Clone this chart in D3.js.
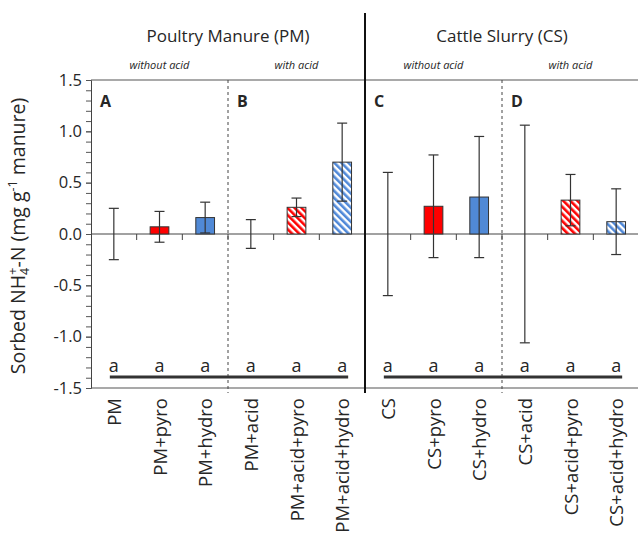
<!DOCTYPE html>
<html>
<head>
<meta charset="utf-8">
<script src="https://cdn.jsdelivr.net/npm/d3@7"></script>
<style>
  body { margin: 0; background: #fff; }
  svg text { font-family: "Open Sans", "Noto Sans", sans-serif; fill: #262626; }
</style>
</head>
<body>
<div id="chart"></div>
<script>
categories = ['PM','PM+pyro','PM+hydro','PM+acid','PM+acid+pyro','PM+acid+hydro',
              'CS','CS+pyro','CS+hydro','CS+acid','CS+acid+pyro','CS+acid+hydro'];
values = [0, 0.07, 0.16, 0, 0.26, 0.70, 0, 0.27, 0.36, 0, 0.33, 0.12];
errors = [0.25, 0.15, 0.15, 0.14, 0.09, 0.38, 0.60, 0.50, 0.59, 1.06, 0.25, 0.32];
fills = ['none','red','blue','none','redHatch','blueHatch','none','red','blue','none','redHatch','blueHatch'];
letters = ['a','a','a','a','a','a','a','a','a','a','a','a'];
panels = ['A','B','C','D'];
subHeads = ['without acid','with acid','without acid','with acid'];
groups = ['Poultry Manure (PM)','Cattle Slurry (CS)'];
yTicks = [-1.5,-1.0,-0.5,0.0,0.5,1.0,1.5];

let width = 638;
let height = 538;

const margin = { top: 80, left: 91, bottom: 150, right: 0 };

let svg = d3.select('#chart').append('svg')
    .attr('width', width)
    .attr('height', height);

let defs = svg.append('defs');
function hatch(id, color) {
    let p = defs.append('pattern').attr('id', id)
        .attr('patternUnits', 'userSpaceOnUse')
        .attr('width', 5).attr('height', 5)
        .attr('patternTransform', 'rotate(-45)');
    p.append('rect').attr('width', 5).attr('height', 5).attr('fill', '#fff');
    p.append('rect').attr('width', 2.6).attr('height', 5).attr('fill', color);
}
hatch('redHatch', '#ff0000');
hatch('blueHatch', '#4f88d8');

const colors = { red: '#ff0000', blue: '#5089d6', redHatch: 'url(#redHatch)', blueHatch: 'url(#blueHatch)' };

//-----X-------
let x = d3.scaleBand().domain(categories)
    .range([margin.left, width + 1]);

//-----Y-------
let y = d3.scaleLinear().domain([-1.5, 1.5])
    .range([height - margin.bottom, margin.top]);

// minor ticks
svg.append('g').attr('class', 'axis minor')
    .attr('transform', 'translate(' + margin.left + ',0)')
    .call(d3.axisLeft(y).tickValues(d3.range(-15, 16).map(d => d / 10)).tickSize(5).tickFormat(''))
    .call(g => g.select('.domain').remove())
    .call(g => g.selectAll('line').attr('stroke', '#555'));

let yAxis = d3.axisLeft(y)
    .tickValues(yTicks)
    .tickSize(5)
    .tickPadding(4)
    .tickFormat(d3.format('.1f'));

svg.append('g').attr('class', 'axis y')
    .attr('transform', 'translate(' + margin.left + ',0)')
    .call(yAxis)
    .call(g => g.select('.domain').attr('stroke', '#444'))
    .call(g => g.selectAll('line').attr('stroke', '#555'))
    .call(g => g.selectAll('text').attr('font-size', 16.5).style('fill', '#262626')
        .text(d => d3.format('.1f')(d).replace('−', '-')));

// top and bottom frame lines
[1.5, -1.5].forEach(v => {
    svg.append('line')
        .attr('x1', margin.left).attr('x2', width)
        .attr('y1', y(v)).attr('y2', y(v))
        .attr('stroke', '#555').attr('stroke-width', 1.2);
});

// zero line with category ticks
svg.append('line')
    .attr('x1', margin.left).attr('x2', width)
    .attr('y1', y(0)).attr('y2', y(0))
    .attr('stroke', '#444').attr('stroke-width', 1.2);

svg.selectAll('.xtick')
    .data(categories.slice(1))
    .enter().append('line')
        .attr('x1', d => x(d)).attr('x2', d => x(d))
        .attr('y1', y(0)).attr('y2', y(0) + 6)
        .attr('stroke', '#444');

// dividers
svg.append('line')
    .attr('x1', x('CS')).attr('x2', x('CS'))
    .attr('y1', 13).attr('y2', y(-1.5) + 5)
    .attr('stroke', '#111').attr('stroke-width', 2);

['PM+acid', 'CS+acid'].forEach(c => {
    svg.append('line')
        .attr('x1', x(c)).attr('x2', x(c))
        .attr('y1', y(1.5)).attr('y2', y(-1.5) + 5)
        .attr('stroke', '#444').attr('stroke-width', 1)
        .attr('stroke-dasharray', '3,3');
});

//-----Bars-------
let barW = x.bandwidth() * 0.41;

svg.selectAll('.bar')
    .data(values)
    .enter().append('rect')
        .attr('class', 'bar')
        .attr('x', (d, i) => x(categories[i]) + (x.bandwidth() - barW) / 2)
        .attr('y', d => y(d))
        .attr('width', barW)
        .attr('height', d => y(0) - y(d))
        .attr('fill', (d, i) => fills[i] === 'none' ? 'none' : colors[fills[i]])
        .attr('stroke', (d, i) => fills[i] === 'none' ? 'none' : '#333')
        .attr('stroke-width', 1);

//-----Error bars-------
let err = svg.selectAll('.err')
    .data(values)
    .enter().append('g')
        .attr('class', 'err')
        .attr('transform', (d, i) => 'translate(' + (x(categories[i]) + x.bandwidth() / 2) + ',0)');

err.append('line')
    .attr('y1', (d, i) => y(d + errors[i]))
    .attr('y2', (d, i) => y(d - errors[i]))
    .attr('stroke', '#333').attr('stroke-width', 1.2);

err.selectAll('.cap')
    .data((d, i) => [d + errors[i], d - errors[i]])
    .enter().append('line')
        .attr('x1', -5).attr('x2', 5)
        .attr('y1', d => y(d)).attr('y2', d => y(d))
        .attr('stroke', '#333').attr('stroke-width', 1.2);

//-----Significance letters-------
svg.selectAll('.letter')
    .data(letters)
    .enter().append('text')
        .attr('x', (d, i) => x(categories[i]) + x.bandwidth() / 2)
        .attr('y', 372)
        .attr('text-anchor', 'middle')
        .attr('font-size', 18)
        .text(d => d);

[[categories[0], categories[5]], [categories[6], categories[11]]].forEach(pair => {
    svg.append('line')
        .attr('x1', x(pair[0]) + x.bandwidth() / 2 - 4)
        .attr('x2', x(pair[1]) + x.bandwidth() / 2 + 6)
        .attr('y1', 377).attr('y2', 377)
        .attr('stroke', '#333').attr('stroke-width', 3);
});

//-----Panel letters-------
svg.selectAll('.panel')
    .data(panels)
    .enter().append('text')
        .attr('x', (d, i) => x(categories[i * 3]) + 9)
        .attr('y', 107)
        .attr('font-size', 16)
        .attr('font-weight', 'bold')
        .text(d => d);

//-----Headers-------
svg.selectAll('.group')
    .data(groups)
    .enter().append('text')
        .attr('x', (d, i) => x(categories[i * 6 + 3]))
        .attr('y', 42)
        .attr('text-anchor', 'middle')
        .attr('font-size', 17)
        .text(d => d);

svg.selectAll('.sub')
    .data(subHeads)
    .enter().append('text')
        .attr('x', (d, i) => x(categories[i * 3 + 1]) + x.bandwidth() / 2)
        .attr('y', 69)
        .attr('text-anchor', 'middle')
        .attr('font-size', 11)
        .attr('font-style', 'italic')
        .text(d => d);

//-----X labels-------
svg.selectAll('.xlabel')
    .data(categories)
    .enter().append('text')
        .attr('transform', d => 'translate(' + (x(d) + x.bandwidth() / 2 + 7) + ',398) rotate(-90)')
        .attr('text-anchor', 'end')
        .attr('font-size', 18.5)
        .text(d => d);

//-----Y title-------
let yt = svg.append('text')
    .attr('transform', 'translate(25,' + (y(0) + 2) + ') rotate(-90)')
    .attr('text-anchor', 'middle')
    .attr('font-size', 19.5);
yt.append('tspan').text('Sorbed NH');
yt.append('tspan').attr('font-size', 12.5).attr('dy', 4).text('4');
yt.append('tspan').attr('font-size', 12.5).attr('dx', -7).attr('dy', -12).text('+');
yt.append('tspan').attr('dy', 8).text('-N (mg g');
yt.append('tspan').attr('font-size', 12.5).attr('dy', -8).text('-1');
yt.append('tspan').attr('dy', 8).text(' manure)');
</script>
</body>
</html>
